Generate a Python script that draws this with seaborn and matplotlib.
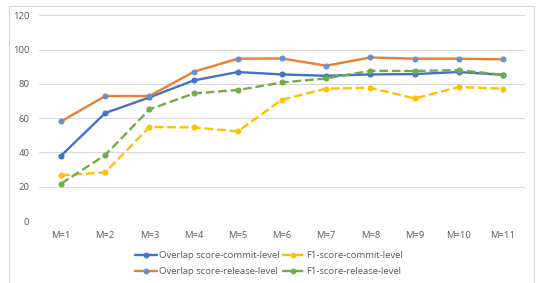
import matplotlib
matplotlib.use("Agg")
import matplotlib.pyplot as plt
import seaborn as sns
import pandas as pd
from matplotlib.patches import Rectangle
from matplotlib.lines import Line2D

categories = ["M=1", "M=2", "M=3", "M=4", "M=5", "M=6", "M=7", "M=8", "M=9", "M=10", "M=11"]
overlap_commit = [38.1, 63.0, 72.1, 82.0, 86.9, 85.5, 84.7, 85.5, 85.7, 86.9, 85.3]
overlap_release = [58.1, 72.9, 72.9, 87.0, 94.7, 94.8, 90.6, 95.4, 94.7, 94.7, 94.3]
f1_commit = [26.6, 28.4, 54.8, 54.6, 52.3, 70.8, 77.2, 77.7, 71.5, 78.1, 77.2]
f1_release = [21.8, 38.5, 65.1, 74.4, 76.4, 80.8, 83.2, 87.6, 87.5, 88.0, 85.3]
series_names = ["Overlap score-commit-level", "Overlap score-release-level",
                "F1-score-commit-level", "F1-score-release-level"]
yticks = [0, 20, 40, 60, 80, 100, 120]

sns.set_theme(style="white")
plt.rcParams["font.family"] = ["Open Sans", "DejaVu Sans"]

fig = plt.figure(figsize=(5.38, 2.83), dpi=100)
ax = fig.add_axes([0.0725, 0.219, 0.9033, 0.727])

# chart border
fig.patches.append(Rectangle((0.0167, -0.1), 0.976, 1.08, transform=fig.transFigure,
                             fill=False, edgecolor="#D9D9D9", linewidth=0.8))

styles = [
    (overlap_commit, "#4472C4", "#4472C4", "-"),
    (overlap_release, "#ED7D31", "#6A92C8", "-"),
    (f1_commit, "#FFC000", "#FFC000", "--"),
    (f1_release, "#70AD47", "#70AD47", "--"),
]

x = list(range(len(categories)))
handles = []
for (vals, lc, mc, ls), name in zip(styles, series_names):
    df = pd.DataFrame({"x": x, "y": vals})
    sns.lineplot(data=df, x="x", y="y", ax=ax, color=lc, linestyle=ls, linewidth=1.7,
                 marker="o", markersize=3.6, markerfacecolor=mc, markeredgecolor=mc,
                 legend=False, zorder=3)
    handles.append(Line2D([0], [0], color=lc, linestyle=ls, linewidth=1.7, marker="o",
                          markersize=3.2, markerfacecolor=mc, markeredgecolor=mc, label=name))

ax.set_xlim(-0.5, len(categories) - 0.5)
ax.set_ylim(0, 120)
ax.set_yticks(yticks)
ax.set_yticklabels([str(v) for v in yticks])
ax.set_xticks(x)
ax.set_xticklabels(categories)
ax.grid(axis="y", color="#D9D9D9", linewidth=0.75)
ax.grid(axis="x", visible=False)
for s in ax.spines.values():
    s.set_visible(False)
ax.set_xlabel("")
ax.set_ylabel("")
ax.tick_params(axis="both", length=0, labelsize=6.8, colors="#595959", pad=7)
ax.tick_params(axis="x", pad=7)

leg = fig.legend(handles=handles, ncol=2, loc="center", bbox_to_anchor=(0.5, 0.069),
                 frameon=False, fontsize=6.8, handlelength=2.4, handletextpad=0.2,
                 columnspacing=0.2, labelspacing=0.75, borderaxespad=0.0, borderpad=0.0)
for t in leg.get_texts():
    t.set_color("#595959")

fig.savefig("out.png", dpi=100)
